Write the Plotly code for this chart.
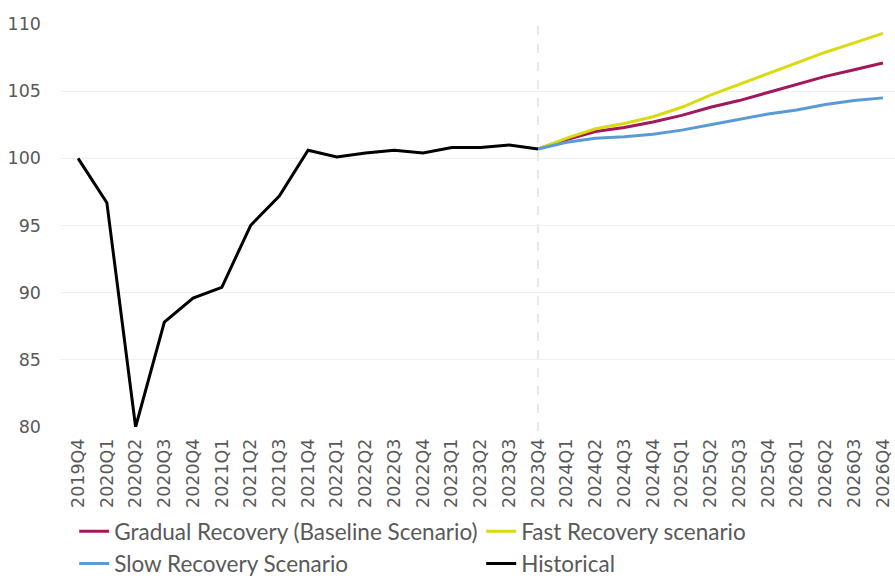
import plotly.graph_objects as go

quarters = [
    "2019Q4", "2020Q1", "2020Q2", "2020Q3", "2020Q4", "2021Q1", "2021Q2", "2021Q3",
    "2021Q4", "2022Q1", "2022Q2", "2022Q3", "2022Q4", "2023Q1", "2023Q2", "2023Q3",
    "2023Q4", "2024Q1", "2024Q2", "2024Q3", "2024Q4", "2025Q1", "2025Q2", "2025Q3",
    "2025Q4", "2026Q1", "2026Q2", "2026Q3", "2026Q4",
]

historical = [100.0, 96.7, 80.0, 87.8, 89.6, 90.4, 95.0, 97.2,
              100.6, 100.1, 100.4, 100.6, 100.4, 100.8, 100.8, 101.0, 100.7]

# Scenario paths start at the last historical quarter (2023Q4)
scenario_quarters = quarters[16:]
gradual = [100.7, 101.4, 102.0, 102.3, 102.7, 103.2, 103.8, 104.3, 104.9, 105.5, 106.1, 106.6, 107.1]
fast = [100.7, 101.5, 102.2, 102.6, 103.1, 103.8, 104.7, 105.5, 106.3, 107.1, 107.9, 108.6, 109.3]
slow = [100.7, 101.2, 101.5, 101.6, 101.8, 102.1, 102.5, 102.9, 103.3, 103.6, 104.0, 104.3, 104.5]

tick_font = "'DejaVu Sans', sans-serif"
legend_font = "Lato, 'Open Sans', sans-serif"

fig = go.Figure()
fig.add_trace(go.Scatter(x=scenario_quarters, y=gradual, mode="lines",
                         name="Gradual Recovery (Baseline Scenario)",
                         line=dict(color="#A3175C", width=3)))
fig.add_trace(go.Scatter(x=scenario_quarters, y=fast, mode="lines",
                         name="Fast Recovery scenario",
                         line=dict(color="#DADA10", width=3)))
fig.add_trace(go.Scatter(x=scenario_quarters, y=slow, mode="lines",
                         name="Slow Recovery Scenario",
                         line=dict(color="#5B9BD5", width=3)))
fig.add_trace(go.Scatter(x=quarters[:len(historical)], y=historical, mode="lines",
                         name="Historical",
                         line=dict(color="#000000", width=3)))

# Dashed marker at the start of the projection period
fig.add_shape(type="line", xref="x", yref="paper", x0="2023Q4", x1="2023Q4",
              y0=-0.01, y1=1.01, line=dict(color="#D9D9D9", width=1.2, dash="dash"),
              layer="below")

fig.update_layout(
    width=895, height=578,
    margin=dict(l=60, r=0, t=24, b=151, autoexpand=False),
    paper_bgcolor="white", plot_bgcolor="white",
    font=dict(family=tick_font, color="#595959"),
    xaxis=dict(
        type="category", categoryorder="array", categoryarray=quarters,
        range=[-0.63, 28.42], automargin=False,
        tickangle=-90, tickfont=dict(size=17.5, color="#595959", family=tick_font),
        showgrid=False, showline=False, zeroline=False, ticks="",
        ticklabelstandoff=7,
    ),
    yaxis=dict(
        range=[80, 110], dtick=5, automargin=False,
        tickfont=dict(size=17.5, color="#595959", family=tick_font),
        showgrid=True, gridcolor="#F0F0F0", gridwidth=1,
        zeroline=False, showline=False, ticks="", ticklabelstandoff=18,
    ),
    legend=dict(
        orientation="h", x=0.017, xanchor="left", y=-0.206, yanchor="top",
        font=dict(size=22.5, color="#595959", family=legend_font),
        entrywidth=362, entrywidthmode="pixels", itemwidth=30,
        tracegroupgap=0, bgcolor="rgba(0,0,0,0)",
    ),
    showlegend=True,
)

fig.write_html("out.html")
